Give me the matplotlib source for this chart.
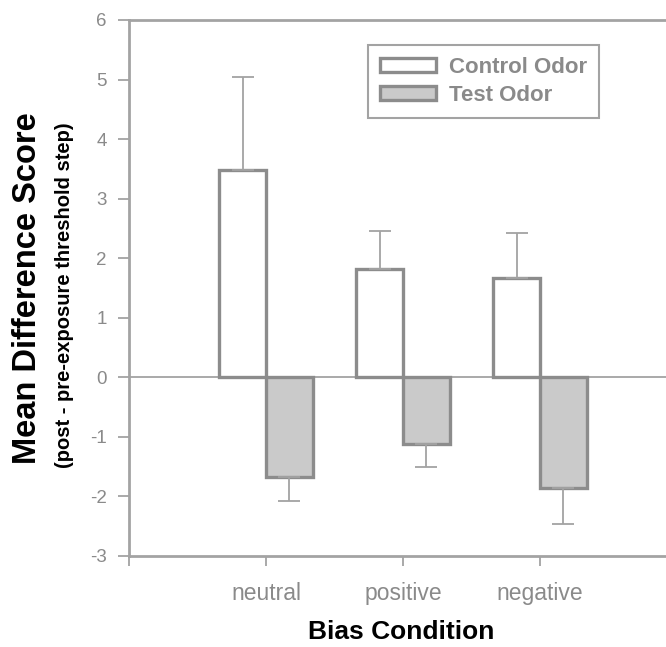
import matplotlib.pyplot as plt
import numpy as np

plt.rcParams['font.family'] = ['Liberation Sans', 'DejaVu Sans']
plt.rcParams['axes.unicode_minus'] = False

conditions = ['neutral', 'positive', 'negative']
control_mean = [3.48, 1.82, 1.67]
control_err = [1.57, 0.64, 0.75]
test_mean = [-1.67, -1.12, -1.86]
test_err = [0.40, 0.38, 0.61]

grey_line = '#a3a3a3'
bar_edge = '#8c8c8c'
test_fill = '#cacaca'
text_grey = '#8a8a8a'

fig = plt.figure(figsize=(6.66, 6.47), dpi=100)
ax = fig.add_axes([129 / 666, 91 / 647, 1 - 129 / 666, 536 / 647])

x = np.arange(len(conditions))
w = 0.34
zeros = [0] * len(conditions)

ax.axhline(0, color=grey_line, lw=1.3, zorder=1)
ax.bar(x - w / 2, control_mean, w, color='white', edgecolor=bar_edge, lw=2.4,
       yerr=[zeros, control_err], error_kw=dict(ecolor=grey_line, elinewidth=1.3, capsize=8, capthick=1.3),
       label='Control Odor', zorder=3)
ax.bar(x + w / 2, test_mean, w, color=test_fill, edgecolor=bar_edge, lw=2.4,
       yerr=[test_err, zeros], error_kw=dict(ecolor=grey_line, elinewidth=1.3, capsize=8, capthick=1.3),
       label='Test Odor', zorder=3)

ax.set_xlim(-1, 2.92)
ax.set_ylim(-3, 6)
ax.set_yticks(range(-3, 7))
ax.set_xticks(x)
ax.set_xticklabels(conditions)
ax.set_xticks([-1], minor=True)

for side in ['left', 'bottom', 'top']:
    ax.spines[side].set_color(grey_line)
    ax.spines[side].set_linewidth(2)
ax.spines['right'].set_visible(False)

ax.tick_params(axis='y', colors=grey_line, labelcolor=text_grey, labelsize=13.5, length=8, width=1.3, pad=8)
ax.tick_params(axis='x', which='both', colors=grey_line, labelcolor=text_grey, labelsize=16.5, length=7, width=1.3, pad=12)

leg = ax.legend(loc='upper left', bbox_to_anchor=(368 / 666, 1 - 45 / 647), bbox_transform=fig.transFigure,
                prop=dict(size=16, weight='bold'), handlelength=2.5, handleheight=0.6,
                fancybox=False, framealpha=1, borderpad=0.55, borderaxespad=0,
                labelspacing=0.3, handletextpad=0.6)
leg.get_frame().set_edgecolor(grey_line)
leg.get_frame().set_linewidth(1.5)
for t in leg.get_texts():
    t.set_color(text_grey)

fig.text(27.5 / 666, 1 - 288 / 647, 'Mean Difference Score', rotation=90, ha='center', va='center',
         fontsize=23.5, fontweight='bold')
fig.text(65 / 666, 1 - 295 / 647, '(post - pre-exposure threshold step)', rotation=90, ha='center', va='center',
         fontsize=14.5, fontweight='bold')
fig.text(401 / 666, 1 - 632 / 647, 'Bias Condition', ha='center', va='center', fontsize=19, fontweight='bold')

fig.savefig('out.png', dpi=100)
